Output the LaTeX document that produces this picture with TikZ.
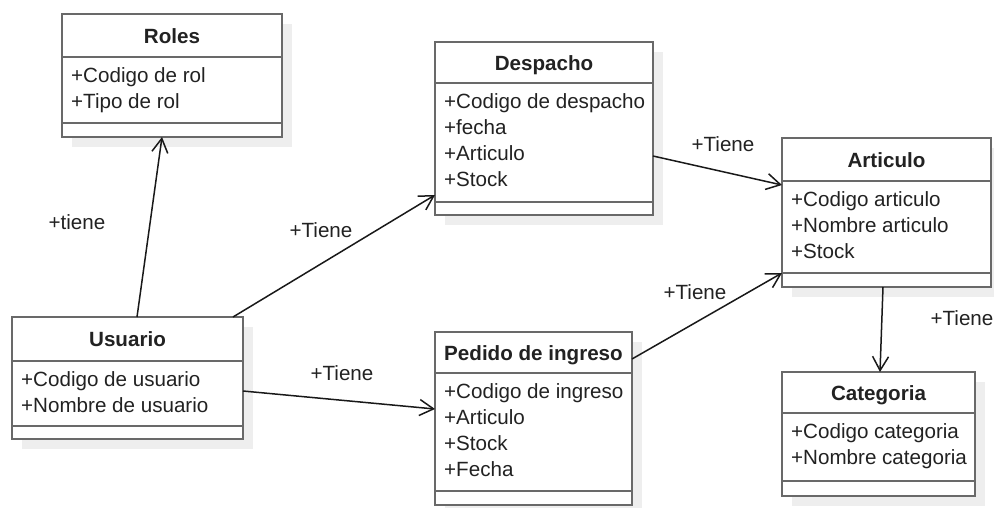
\documentclass[tikz,border=0pt]{standalone}
\usepackage{fontspec}
\setmainfont{Liberation Sans}
\usetikzlibrary{arrows.meta}
\definecolor{boxline}{RGB}{105,105,105}
\definecolor{shadowc}{RGB}{238,238,238}
\definecolor{txt}{RGB}{34,34,34}
\tikzset{
  umlframe/.style={draw=boxline, line width=2.4pt, fill=white, inner sep=0pt, outer sep=0pt, anchor=north west},
  umlsep/.style={draw=boxline, line width=2.4pt},
  umlshadow/.style={fill=shadowc, draw=none},
  umltitle/.style={font=\fontsize{20.6pt}{26pt}\selectfont\bfseries, text=txt, inner sep=0pt, anchor=base},
  umlbody/.style={font=\fontsize{20.6pt}{26pt}\selectfont, text=txt, inner sep=0pt, anchor=north west, align=left},
  rel/.style={draw=black!90, line width=1.5pt, -{Straight Barb[length=14pt,width=16pt]}},
  rellabel/.style={font=\fontsize{20.6pt}{26pt}\selectfont, text=txt, inner sep=0pt}
}
% #1 name, #2 x1, #3 y1, #4 x2, #5 y2, #6 header line y, #7 divider y, #8 title, #9 body
\newcommand\umlbox[9]{%
  \node[umlframe, minimum width={(#4-#2)*1pt}, minimum height={(#5-#3)*1pt}] (#1) at (#2,#3) {};
  \draw[umlsep] (#2,#6) -- (#4,#6);
  \draw[umlsep] (#2,#7) -- (#4,#7);
  \node[umltitle] (#1-title) at ({(#2+#4)/2},{(#3+#6)/2+7.5}) {#8};
  \node[umlbody] (#1-body) at (#2+9,#6+9) {\rule{0pt}{16.5pt}#9};
}
\newcommand\umlshade[4]{\fill[umlshadow] (#1+10,#2+10) rectangle (#3+10,#4+10);}
\begin{document}
\begin{tikzpicture}[x=1pt,y=-1pt]
\useasboundingbox (0,0) rectangle (994,507);
% shadows
\umlshade{62}{14}{282}{137}
\umlshade{435}{42}{653}{215}
\umlshade{782}{138}{991}{287}
\umlshade{12}{317}{243}{439}
\umlshade{435}{332}{632}{505}
\umlshade{782}{372}{975}{496}
% classes
\umlbox{roles}{62}{14}{282}{137}{57}{123}{Roles}{+Codigo de rol\\+Tipo de rol}
\umlbox{despacho}{435}{42}{653}{215}{83}{202}{Despacho}{+Codigo de despacho\\+fecha\\+Articulo\\+Stock}
\umlbox{articulo}{782}{138}{991}{287}{181}{273}{Articulo}{+Codigo articulo\\+Nombre articulo\\+Stock}
\umlbox{usuario}{12}{317}{243}{439}{361}{426}{Usuario}{+Codigo de usuario\\+Nombre de usuario}
\umlbox{pedido}{435}{332}{632}{505}{373}{491}{Pedido de ingreso}{+Codigo de ingreso\\+Articulo\\+Stock\\+Fecha}
\umlbox{categoria}{782}{372}{975}{496}{413}{481}{Categoria}{+Codigo categoria\\+Nombre categoria}
% relations
\draw[rel] ([xshift=125pt]usuario.north west) -- ([xshift=100pt]roles.south west);
\draw[rel] ([xshift=221pt]usuario.north west) -- ([yshift=-153pt]despacho.north west);
\draw[rel] ([yshift=-74pt]usuario.north east) -- ([yshift=-77pt]pedido.north west);
\draw[rel] ([yshift=-114pt]despacho.north east) -- ([yshift=-47pt]articulo.north west);
\draw[rel] ([yshift=-27pt]pedido.north east) -- ([yshift=-135pt]articulo.north west);
\draw[rel] ([xshift=101pt]articulo.south west) -- ([xshift=98pt]categoria.north west);
% labels
\node[rellabel] (l1) at (77,222) {+tiene};
\node[rellabel] (l2) at (321,230) {+Tiene};
\node[rellabel] (l3) at (342,373) {+Tiene};
\node[rellabel] (l4) at (723,144) {+Tiene};
\node[rellabel] (l5) at (695,292) {+Tiene};
\node[rellabel] (l6) at (962,318) {+Tiene};
\end{tikzpicture}
\end{document}
